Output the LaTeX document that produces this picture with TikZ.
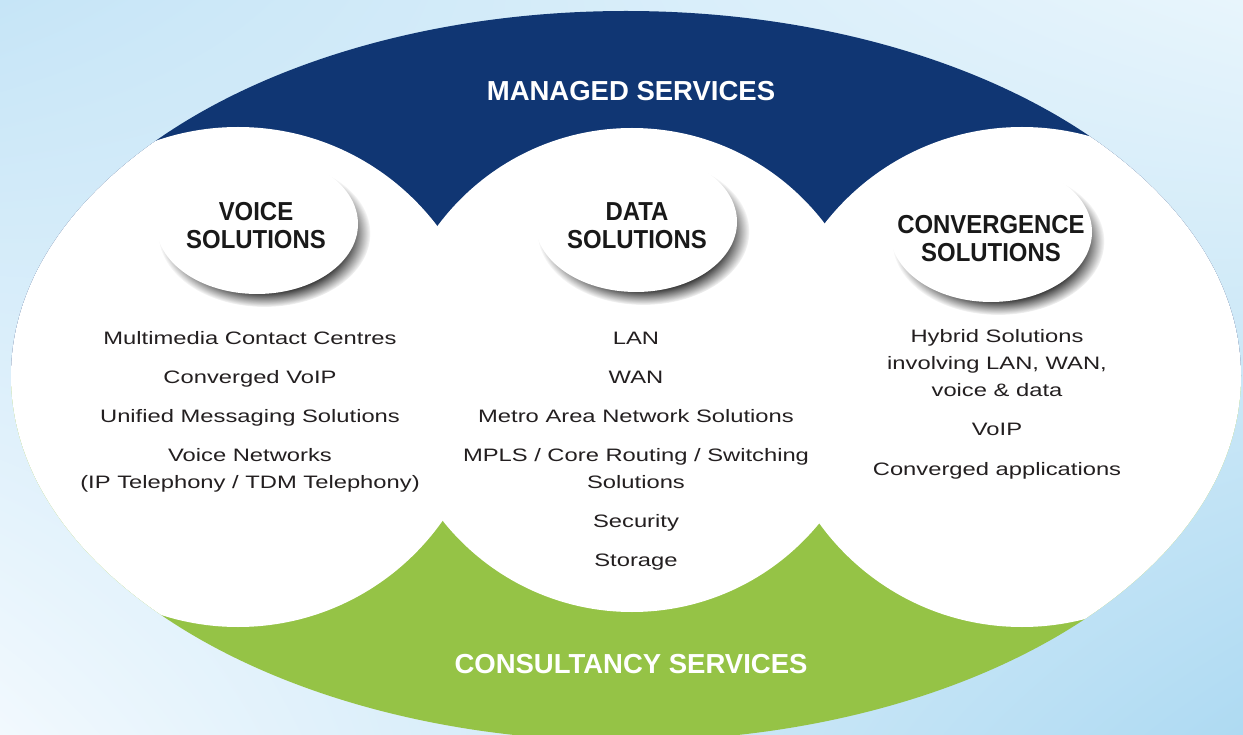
\documentclass[tikz,border=0pt]{standalone}
\usepackage{fontspec}
\setmainfont{Liberation Sans}
\newfontfamily\itemfont[FakeStretch=1.32]{Liberation Sans}
\newfontfamily\badgefont[FakeStretch=0.92]{Liberation Sans}
\usetikzlibrary{shapes.geometric,shadows,shadings}

\definecolor{msblue}{HTML}{103673}
\definecolor{csgreen}{HTML}{95C346}
\definecolor{itemgray}{HTML}{231F20}
\definecolor{bgtl}{HTML}{C6E5F7}
\definecolor{bgtr}{HTML}{E8F5FC}
\definecolor{bgbl}{HTML}{F2F9FE}
\definecolor{bgbr}{HTML}{AEDAF2}

\begin{document}
\begin{tikzpicture}[x=1pt,y=-1pt]
		\tikzset{lobe/.style = {fill=white}}
		\tikzset{band/.style = {text=white, font=\fontsize{27.5}{30}\selectfont\bfseries,
			text height=20.2pt, text depth=0.5pt, inner sep=0pt}}
		\tikzset{badge/.style = {ellipse, fill=white, minimum width=202pt, minimum height=140pt,
			inner sep=0pt, circular drop shadow={shadow xshift=7pt, shadow yshift=-9pt,
			shadow scale=1.05, opacity=.85, fill=black!90,
			path fading={circle with fuzzy edge 20 percent}}}}
		\tikzset{badgetext/.style = {align=center, text=black!90, inner sep=0pt,
			font=\badgefont\fontsize{26}{28}\selectfont\bfseries, text height=19pt, text depth=0.4pt}}
		\tikzset{entry/.style = {align=center, text=itemgray, inner sep=0pt,
			font=\itemfont\fontsize{18}{27}\selectfont, text height=14pt, text depth=1pt}}
		
		% background and the three lobes
		\shade[upper left=bgtl, upper right=bgtr, lower left=bgbl, lower right=bgbr]
			(0,0) rectangle (1243,735);
		\begin{scope}
			\clip (626,376) ellipse [x radius=615, y radius=365];
			\fill[msblue] (0,0) rectangle (1243,376);
			\fill[csgreen] (0,376) rectangle (1243,760);
			\fill[lobe] (238,377) circle [radius=250];
			\fill[lobe] (632,370) circle [radius=242];
			\fill[lobe] (1022,377) circle [radius=250];
		\end{scope}
		
		\node[band] (1) at (631,91) {MANAGED SERVICES};
		\node[band] (2) at (631,664) {CONSULTANCY SERVICES};
		
		\node[badge] (3) at (257,224) {};
		\node[badge] (4) at (636,222) {};
		\node[badge] (5) at (991,232) {};
		% multi-line nodes sit on their last line
		\node[badgetext] (6) at (256,239) {VOICE\\SOLUTIONS};
		\node[badgetext] (7) at (637,239) {DATA\\SOLUTIONS};
		\node[badgetext] (8) at (991,252) {CONVERGENCE\\SOLUTIONS};
		
		% voice
		\node[entry] (9) at (250,338) {Multimedia Contact Centres};
		\node[entry] (10) at (250,377) {Converged VoIP};
		\node[entry] (11) at (250,416) {Unified Messaging Solutions};
		\node[entry] (12) at (250,482) {Voice Networks\\(IP Telephony / TDM Telephony)};
		
		% data
		\node[entry] (13) at (636,338) {LAN};
		\node[entry] (14) at (636,377) {WAN};
		\node[entry] (15) at (636,416) {Metro Area Network Solutions};
		\node[entry] (16) at (636,482) {MPLS / Core Routing / Switching\\Solutions};
		\node[entry] (17) at (636,521) {Security};
		\node[entry] (18) at (636,560) {Storage};
		
		% convergence
		\node[entry] (19) at (997,390) {Hybrid Solutions\\involving LAN, WAN,\\voice \& data};
		\node[entry] (20) at (997,429) {VoIP};
		\node[entry] (21) at (997,469) {Converged applications};
		
		\pgfresetboundingbox
		\useasboundingbox (0,0) rectangle (1243,735);
\end{tikzpicture}
\end{document}
